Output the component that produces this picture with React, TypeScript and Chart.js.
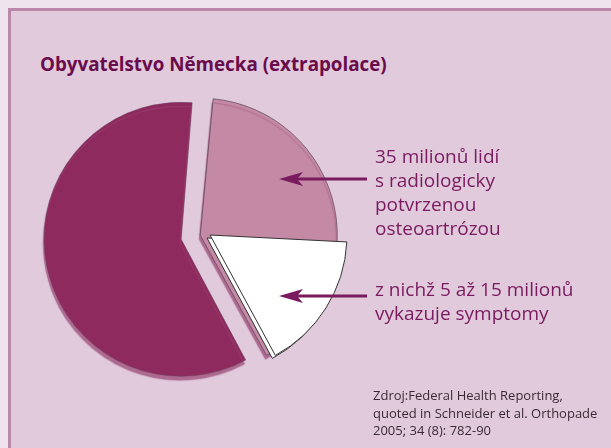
import React, { useEffect, useRef } from "react";
import { Chart, registerables } from "chart.js";

Chart.register(...registerables);

// ---- data ----
const categories = ["S radiologicky potvrzenou osteoartrózou", "Ostatní obyvatelstvo"];
const populationMillions = [35, 51]; // pink slice, maroon slice
const overlayCategories = ["Bez symptomů", "S symptomy", "Ostatní"];
const overlayMillions = [21, 14, 51]; // only the symptomatic part is drawn
const titleText = "Obyvatelstvo Německa (extrapolace)";
const label1Lines = ["35 milionů lidí", "s radiologicky", "potvrzenou", "osteoartrózou"];
const label2Lines = ["z nichž 5 až 15 milionů", "vykazuje symptomy"];
const sourceLines = [
  "Zdroj:Federal Health Reporting,",
  "quoted in Schneider et al. Orthopade",
  "2005; 34 (8): 782-90",
];

const FONT = '"Open Sans", "Noto Sans", sans-serif';
const TEXT_COLOR = "#7a1a5f";

const shadowPlugin = {
  id: "sliceShadow",
  beforeDatasetsDraw(chart: any) {
    const ctx = chart.ctx;
    ctx.save();
    ctx.shadowColor = "rgba(160,80,125,0.8)";
    ctx.shadowOffsetX = -1;
    ctx.shadowOffsetY = 4;
    ctx.shadowBlur = 1;
  },
  afterDatasetsDraw(chart: any) {
    chart.ctx.restore();
  },
};

const extrudePlugin = {
  id: "extrude",
  beforeDatasetsDraw(chart: any) {
    const ctx = chart.ctx;
    const meta = chart.getDatasetMeta(0);
    ctx.save();
    ctx.translate(-3, 3);
    meta.data.forEach((el: any) => el.draw(ctx));
    ctx.restore();
  },
};

function PieMain() {
  const ref = useRef<HTMLCanvasElement | null>(null);
  useEffect(() => {
    const chart = new Chart(ref.current as HTMLCanvasElement, {
      type: "pie",
      data: {
        labels: categories,
        datasets: [
          {
            data: populationMillions,
            backgroundColor: ["#c48aa5", "#8e2a5e"],
            borderColor: ["rgba(90,70,85,0.7)", "rgba(110,60,90,0.6)"],
            borderWidth: 1,
            offset: [54, 24],
          },
        ],
      },
      options: {
        responsive: false,
        animation: false,
        rotation: 5,
        radius: 131,
        layout: { padding: 0 },
        plugins: { legend: { display: false }, tooltip: { enabled: false } },
      },
      plugins: [shadowPlugin],
    });
    return () => chart.destroy();
  }, []);
  return (
    <canvas
      ref={ref}
      width={340}
      height={340}
      style={{ position: "absolute", left: 17, top: 68, width: 340, height: 340 }}
    />
  );
}

function PieOverlay() {
  const ref = useRef<HTMLCanvasElement | null>(null);
  useEffect(() => {
    const chart = new Chart(ref.current as HTMLCanvasElement, {
      type: "pie",
      data: {
        labels: overlayCategories,
        datasets: [
          {
            data: overlayMillions,
            backgroundColor: ["rgba(0,0,0,0)", "#ffffff", "rgba(0,0,0,0)"],
            borderColor: ["rgba(0,0,0,0)", "#333333", "rgba(0,0,0,0)"],
            borderWidth: [0, 1, 0],
          },
        ],
      },
      options: {
        responsive: false,
        animation: false,
        rotation: 5,
        radius: 137,
        layout: { padding: 0 },
        plugins: { legend: { display: false }, tooltip: { enabled: false } },
      },
      plugins: [extrudePlugin],
    });
    return () => chart.destroy();
  }, []);
  return (
    <canvas
      ref={ref}
      width={340}
      height={340}
      style={{ position: "absolute", left: 40, top: 65, width: 340, height: 340 }}
    />
  );
}

function Arrow({ y }: { y: number }) {
  return (
    <g>
      <line x1={297} y1={y} x2={367} y2={y} stroke={TEXT_COLOR} strokeWidth={3} />
      <polygon
        points={`279,${y} 303,${y - 7} 297,${y} 303,${y + 7}`}
        fill={TEXT_COLOR}
      />
    </g>
  );
}

export default function App() {
  return (
    <div
      style={{
        position: "fixed",
        left: 0,
        top: 0,
        width: 611,
        height: 448,
        background: "#efe3ed",
        overflow: "hidden",
      }}
    >
      <div
        style={{
          position: "absolute",
          left: 8,
          top: 8,
          width: 620,
          height: 460,
          background: "#e0cadc",
          borderLeft: "3px solid #bb88aa",
          borderTop: "3px solid #bb88aa",
        }}
      />
      <div
        style={{
          position: "absolute",
          left: 40,
          top: 55,
          fontFamily: FONT,
          fontWeight: 700,
          fontSize: 18.8,
          lineHeight: "19px",
          color: "#6a0b4b",
          whiteSpace: "nowrap",
        }}
      >
        {titleText}
      </div>
      <PieMain />
      <PieOverlay />
      <svg
        width={611}
        height={448}
        style={{ position: "absolute", left: 0, top: 0, pointerEvents: "none" }}
      >
        <Arrow y={179} />
        <Arrow y={296} />
      </svg>
      <div
        style={{
          position: "absolute",
          left: 375,
          top: 144,
          fontFamily: FONT,
          fontSize: 19,
          lineHeight: "24px",
          color: TEXT_COLOR,
          whiteSpace: "nowrap",
        }}
      >
        {label1Lines.map((l, i) => (
          <div key={i}>{l}</div>
        ))}
      </div>
      <div
        style={{
          position: "absolute",
          left: 375,
          top: 277,
          fontFamily: FONT,
          fontSize: 19,
          lineHeight: "24px",
          color: TEXT_COLOR,
          whiteSpace: "nowrap",
        }}
      >
        {label2Lines.map((l, i) => (
          <div key={i}>{l}</div>
        ))}
      </div>
      <div
        style={{
          position: "absolute",
          left: 373,
          top: 387,
          fontFamily: FONT,
          fontSize: 13,
          lineHeight: "17.5px",
          color: "#3a2a36",
          whiteSpace: "nowrap",
        }}
      >
        {sourceLines.map((l, i) => (
          <div key={i}>{l}</div>
        ))}
      </div>
    </div>
  );
}
